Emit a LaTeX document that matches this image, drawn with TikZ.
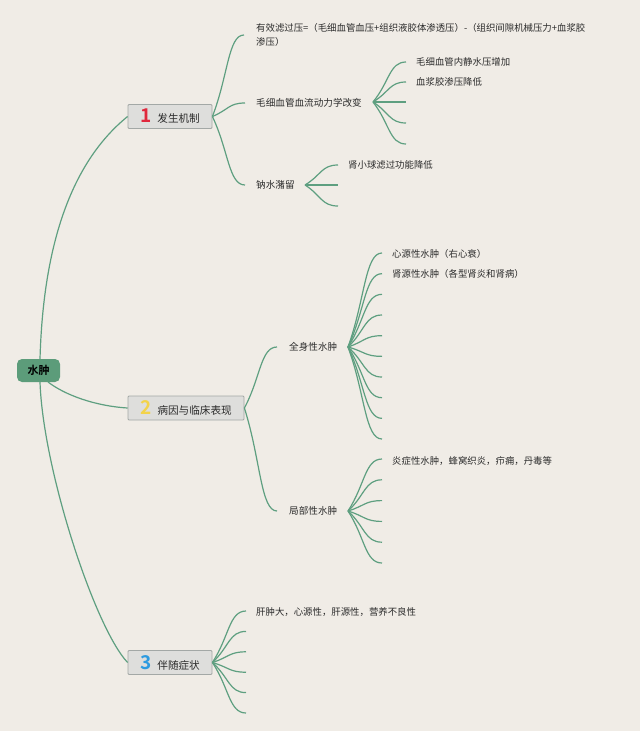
\documentclass[tikz,border=0pt]{standalone}
\usepackage{fontspec}
\setmainfont{Noto Sans CJK SC}[BoldFont={Noto Sans CJK SC Bold}]
\usetikzlibrary{calc}
\definecolor{bg}{HTML}{F0ECE6}
\definecolor{lc}{HTML}{5E9F80}
\definecolor{rootc}{HTML}{5C9C7A}
\definecolor{boxf}{HTML}{DEDEDC}
\definecolor{boxd}{HTML}{A3A8A6}
\definecolor{txt}{HTML}{2B2B2B}
\definecolor{n1}{HTML}{E0283C}
\definecolor{n2}{HTML}{F3D34A}
\definecolor{n3}{HTML}{2D9BE0}
\tikzset{
 lk/.style={draw=lc, line width=1.2pt},
 br/.style={lk, to path={let \p1=(\tikztostart), \p2=(\tikztotarget) in .. controls ({0.5*\x1+0.5*\x2},{0.5*\y1+0.5*\y2}) and ({0.5*\x1+0.5*\x2},\y2) .. (\tikztotarget)}},
 leaf/.style={anchor=base west, inner sep=0pt, text=txt, font=\fontsize{9.4}{14}\selectfont, align=left},
 topic/.style={draw=boxd, fill=boxf, line width=0.8pt, rounded corners=1pt, minimum height=24pt, inner sep=0pt, text=txt, font=\fontsize{10.6}{12}\selectfont},
 root/.style={fill=rootc, rounded corners=5pt, minimum width=43pt, minimum height=23pt, inner sep=0pt, text=black, font=\fontsize{11}{12}\selectfont\bfseries},
}
\newcommand{\bignum}[2]{{\fontsize{19}{19}\selectfont\bfseries\color{#1}#2}\hspace{6pt}}
\begin{document}
\begin{tikzpicture}[x=1pt,y=-1pt]
\fill[bg] (0,0) rectangle (640,731);
\useasboundingbox (0,0) rectangle (640,731);

% root and main topics
\node[root] (root) at (38.5,370.5) {水肿};
\node[topic, minimum width=84pt] (b1) at (170,116.5) {\bignum{n1}{1}发生机制};
\node[topic, minimum width=116pt] (b2) at (186,408) {\bignum{n2}{2}病因与临床表现};
\node[topic, minimum width=84pt] (b3) at (170,662.5) {\bignum{n3}{3}伴随症状};
\coordinate (rt) at (40,359);
\coordinate (rb) at (40,382);
\coordinate (rr) at (48,382);
\draw[lk] (rt) .. controls (43.3,241.7) and (72.7,161) .. (b1.west);
\draw[lk] (rr) .. controls (65,395) and (95,406) .. (b2.west);
\draw[lk] (rb) .. controls (43,470) and (95,628) .. (b3.west);

% topic 1
\coordinate (c11) at (244,35);
\coordinate (c12) at (245,103);
\coordinate (c13) at (245,185);
\node[leaf] (t11) at (256,45.6) {有效滤过压=（毛细血管血压+组织液胶体渗透压）-（组织间隙机械压力+血浆胶\\渗压）};
\node[leaf, font=\fontsize{9.6}{14}\selectfont] (t12) at (256,106.6) {毛细血管血流动力学改变};
\node[leaf, font=\fontsize{9.6}{14}\selectfont] (t13) at (256,188.6) {钠水潴留};
\foreach \c in {c11,c12,c13} \draw[br] (b1.east) to (\c);

\coordinate (o12) at (373,102);
\foreach \i/\y in {1/62,2/82,3/102,4/123,5/144} {
  \coordinate (e12\i) at (406,\y);
  \draw[br] (o12) to (e12\i);
}
\node[leaf] (t121) at (416,65.6) {毛细血管内静水压增加};
\node[leaf] (t122) at (416,85.6) {血浆胶渗压降低};

\coordinate (o13) at (305,185);
\foreach \i/\y in {1/165,2/185,3/206} {
  \coordinate (e13\i) at (338,\y);
  \draw[br] (o13) to (e13\i);
}
\node[leaf] (t131) at (348,168.6) {肾小球滤过功能降低};

% topic 2
\coordinate (c21) at (277,347);
\coordinate (c22) at (277,511);
\foreach \c in {c21,c22} \draw[br] (b2.east) to (\c);
\node[leaf, font=\fontsize{9.6}{14}\selectfont] (t21) at (289,350.6) {全身性水肿};
\node[leaf, font=\fontsize{9.6}{14}\selectfont] (t22) at (289,514.6) {局部性水肿};

\coordinate (o21) at (348,347);
\foreach \i in {0,...,9} {
  \coordinate (e21\i) at (382,{253+20.67*\i});
  \draw[br] (o21) to (e21\i);
}
\node[leaf] (t210) at (392,257.6) {心源性水肿（右心衰）};
\node[leaf] (t211) at (392,277.6) {肾源性水肿（各型肾炎和肾病）};

\coordinate (o22) at (348,511);
\foreach \i in {0,...,5} {
  \coordinate (e22\i) at (382,{459+20.8*\i});
  \draw[br] (o22) to (e22\i);
}
\node[leaf] (t220) at (392,464.6) {炎症性水肿，蜂窝织炎，疖痈，丹毒等};

% topic 3
\foreach \i in {0,...,5} {
  \coordinate (e3\i) at (246,{611+20.4*\i});
  \draw[br] (b3.east) to (e3\i);
}
\node[leaf] (t30) at (256,615.6) {肝肿大，心源性，肝源性，营养不良性};
\end{tikzpicture}
\end{document}
